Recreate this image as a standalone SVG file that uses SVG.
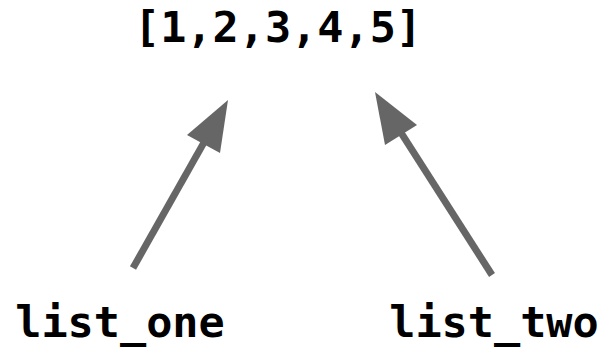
<svg xmlns="http://www.w3.org/2000/svg" width="606" height="349" viewBox="0 0 606 349">
<style>
text{font-family:"DejaVu Sans Mono","Liberation Mono",monospace;font-weight:bold;font-size:43.5px;fill:#000;text-anchor:middle}
.c{stroke:#666;stroke-width:7;fill:none}
.h{fill:#666}
</style>
<rect width="606" height="349" fill="#fff"/>
<g id="list"><text x="278" y="42">[1,2,3,4,5]</text></g>
<g id="list_one"><text x="120" y="337">list_one</text></g>
<g id="list_two"><text x="494" y="337">list_two</text></g>
<g id="connectors">
<path class="c" d="M133,268 L213.2,126.1"/>
<polygon class="h" points="228,100 187,135 220,153"/>
<path class="c" d="M492,275 L391.2,117.3"/>
<polygon class="h" points="375,92 385,145 417,125"/>
</g>
</svg>
